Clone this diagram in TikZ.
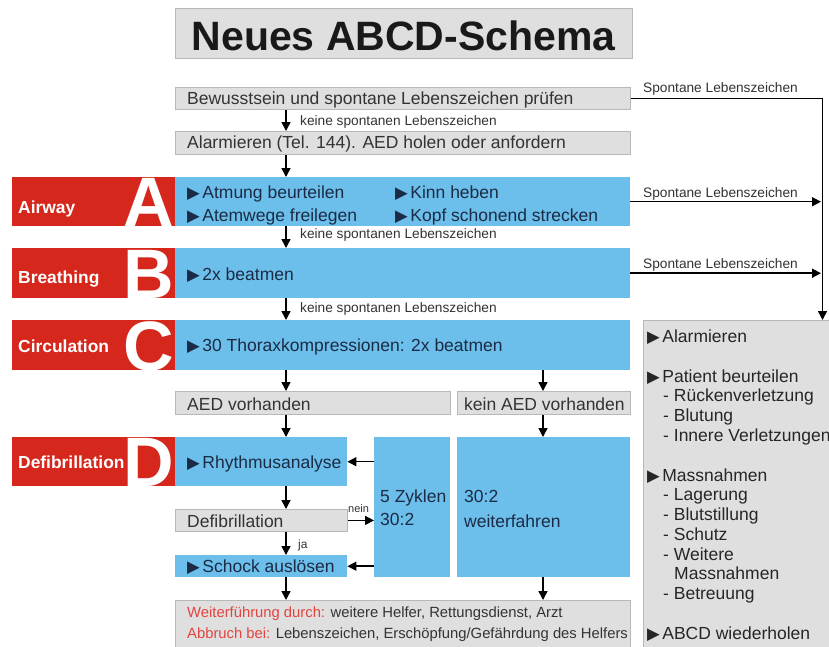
\documentclass[tikz,border=0pt]{standalone}
\usepackage{fontspec}
\setmainfont{Liberation Sans}
\newfontfamily\dejavu{DejaVu Sans}
\usetikzlibrary{arrows.meta}
\definecolor{blueF}{HTML}{6CBFEB}
\definecolor{redF}{HTML}{D6271D}
\definecolor{grayF}{HTML}{DFDFDF}
\definecolor{grayD}{HTML}{B8B8B8}
\definecolor{txtB}{HTML}{1C2B45}
\definecolor{txtG}{HTML}{333333}
\definecolor{redT}{HTML}{E2453F}
\newcommand\mytri{{\dejavu\fontsize{16.5}{16.5}\selectfont\char"25B6}\hspace{2.5pt}}
\begin{document}
\begin{tikzpicture}[x=1pt,y=-1pt,
  gbox/.style={draw=grayD, fill=grayF, line width=0.8pt, inner sep=0, anchor=north west},
  bbox/.style={fill=blueF, inner sep=0, anchor=north west},
  rbox/.style={fill=redF, inner sep=0, anchor=north west},
  txt/.style={anchor=base west, inner sep=0, font=\fontsize{17.5}{20}\selectfont},
  btxt/.style={txt, text=txtB},
  gtxt/.style={txt, text=txtG},
  small/.style={anchor=base west, inner sep=0, font=\fontsize{13.7}{16}\selectfont, text=txtG},
  lbl/.style={anchor=base west, inner sep=0, font=\fontsize{17.4}{20}\selectfont\bfseries, text=white},
  big/.style={anchor=base east, inner sep=0, font=\fontsize{70}{70}\selectfont\bfseries, text=white},
  arr/.style={line width=1.5pt, -{Triangle[length=9pt,width=9pt]}},
  ln/.style={line width=1.5pt}
]
\useasboundingbox (0,0) rectangle (829,646);
\clip (0,0) rectangle (829,646);
\fill[white] (0,0) rectangle (829,646);

% title
\node[gbox, minimum width=457pt, minimum height=50pt] (title) at (175,8) {};
\node[anchor=base, inner sep=0, font=\fontsize{41}{41}\selectfont\bfseries, text=black!90] (ttl) at (403.5,50) {Neues ABCD-Schema};

% boxes
\node[gbox, minimum width=455pt, minimum height=22pt] (b1) at (175,87) {};
\node[gbox, minimum width=455pt, minimum height=23pt] (b2) at (175,131) {};
\node[rbox, minimum width=163pt, minimum height=49pt] (rA) at (12,177) {};
\node[bbox, minimum width=455pt, minimum height=49pt] (bA) at (175,177) {};
\node[rbox, minimum width=163pt, minimum height=50pt] (rB) at (12,248) {};
\node[bbox, minimum width=455pt, minimum height=50pt] (bB) at (175,248) {};
\node[rbox, minimum width=163pt, minimum height=50pt] (rC) at (12,320) {};
\node[bbox, minimum width=455pt, minimum height=50pt] (bC) at (175,320) {};
\node[gbox, minimum width=275pt, minimum height=23pt] (aed) at (175,391) {};
\node[gbox, minimum width=173pt, minimum height=23pt] (noaed) at (457,391) {};
\node[rbox, minimum width=163pt, minimum height=49pt] (rD) at (12,437) {};
\node[bbox, minimum width=172pt, minimum height=49pt] (bD) at (175,437) {};
\node[bbox, minimum width=76pt, minimum height=140pt] (zyk) at (374,437) {};
\node[bbox, minimum width=173pt, minimum height=140pt] (wf) at (457,437) {};
\node[gbox, minimum width=172pt, minimum height=22pt] (defi) at (175,509) {};
\node[bbox, minimum width=172pt, minimum height=22pt] (schock) at (175,555) {};
\node[gbox, minimum width=455pt, minimum height=60pt] (bottom) at (175,600) {};
\node[gbox, minimum width=200pt, minimum height=340pt] (right) at (643,320) {};

% big letters and labels
\node[big] (LA) at (174,226) {A};
\node[big] (LB) at (174,298) {B};
\node[big] (LC) at (174,370) {C};
\node[big] (LD) at (174,486) {D};
\node[lbl] (tA) at (18,213) {Airway};
\node[lbl] (tB) at (18,283) {Breathing};
\node[lbl] (tC) at (18,352) {Circulation};
\node[lbl] (tD) at (18,468) {Defibrillation};

% box texts
\node[gtxt] (t1) at (187,104) {Bewusstsein und spontane Lebenszeichen prüfen};
\node[gtxt] (t2) at (187,148) {Alarmieren (Tel. 144). AED holen oder anfordern};
\node[btxt] (tA1) at (187,198) {\mytri Atmung beurteilen};
\node[btxt] (tA2) at (187,221.5) {\mytri Atemwege freilegen};
\node[btxt] (tA3) at (395,198) {\mytri Kinn heben};
\node[btxt] (tA4) at (395,221.5) {\mytri Kopf schonend strecken};
\node[btxt] (tB1) at (187,280) {\mytri 2x beatmen};
\node[btxt] (tC1) at (187,351) {\mytri 30 Thoraxkompressionen: 2x beatmen};
\node[gtxt] (taed) at (187,410) {AED vorhanden};
\node[gtxt] (tnoaed) at (464,410) {kein AED vorhanden};
\node[btxt] (tD1) at (187,468) {\mytri Rhythmusanalyse};
\node[gtxt] (tdefi) at (187,527) {Defibrillation};
\node[btxt] (tsch) at (187,572) {\mytri Schock auslösen};
\node[btxt] (tz1) at (380,502) {5 Zyklen};
\node[btxt] (tz2) at (380,525) {30:2};
\node[btxt] (tw1) at (464,502) {30:2};
\node[btxt] (tw2) at (464,527) {weiterfahren};
\node[anchor=base west, inner sep=0, font=\fontsize{14.8}{17}\selectfont, text=txtG] (tb1) at (187,617) {\textcolor{redT}{Weiterführung durch:} weitere Helfer, Rettungsdienst, Arzt};
\node[anchor=base west, inner sep=0, font=\fontsize{14.8}{17}\selectfont, text=txtG] (tb2) at (187,638) {\textcolor{redT}{Abbruch bei:} Lebenszeichen, Erschöpfung/Gefährdung des Helfers};

% right list
\begin{scope}[every node/.style={txt, text=black!85}]
\node (r1) at (647,342) {\mytri Alarmieren};
\node (r2) at (647,382) {\mytri Patient beurteilen};
\node (r3) at (663,401.7) {- Rückenverletzung};
\node (r4) at (663,421.4) {- Blutung};
\node (r5) at (663,441) {- Innere Verletzungen};
\node (r6) at (647,481) {\mytri Massnahmen};
\node (r7) at (663,500.5) {- Lagerung};
\node (r8) at (663,520) {- Blutstillung};
\node (r9) at (663,540) {- Schutz};
\node (r10) at (663,560) {- Weitere};
\node (r11) at (674,579.5) {Massnahmen};
\node (r12) at (663,599) {- Betreuung};
\node (r13) at (647,639) {\mytri ABCD wiederholen};
\end{scope}

% small labels
\node[small] (k1) at (300,125) {keine spontanen Lebenszeichen};
\node[small] (k2) at (300,238) {keine spontanen Lebenszeichen};
\node[small] (k3) at (300,312) {keine spontanen Lebenszeichen};
\node[small] (s1) at (643,92) {Spontane Lebenszeichen};
\node[small] (s2) at (643,197) {Spontane Lebenszeichen};
\node[small] (s3) at (643,268) {Spontane Lebenszeichen};
\node[small, font=\fontsize{11}{12}\selectfont] (nein) at (348,512) {nein};
\node[small, font=\fontsize{12}{13}\selectfont] (ja) at (298,548) {ja};

% connectors
\coordinate (cL) at (286,0);
\coordinate (cR) at (543,0);
\coordinate (vR) at (822.5,0);
\coordinate (vT) at (821,0);
\draw[arr] (b1.south -| cL) -- (b2.north -| cL);
\draw[arr] (b2.south -| cL) -- (bA.north -| cL);
\draw[arr] (bA.south -| cL) -- (bB.north -| cL);
\draw[arr] (bB.south -| cL) -- (bC.north -| cL);
\draw[arr] (bC.south -| cL) -- (aed.north -| cL);
\draw[arr] (bC.south -| cR) -- (noaed.north -| cR);
\draw[arr] (aed.south -| cL) -- (bD.north -| cL);
\draw[arr] (noaed.south -| cR) -- (wf.north -| cR);
\draw[arr] (bD.south -| cL) -- (defi.north -| cL);
\draw[arr] (defi.south -| cL) -- (schock.north -| cL);
\draw[arr] (schock.south -| cL) -- (bottom.north -| cL);
\draw[arr] (wf.south -| cR) -- (bottom.north -| cR);
\draw[arr] (defi.east) -- (defi.east -| zyk.west);
\draw[arr] (zyk.west |- bD.east) -- (bD.east);
\draw[arr] (zyk.west |- schock.east) -- (schock.east);
\draw[arr] (b1.east) -- (b1.east -| vR) -- (right.north -| vR);
\draw[arr] (bA.east) -- (bA.east -| vT);
\draw[arr] (bB.east) -- (bB.east -| vT);
\end{tikzpicture}
\end{document}
